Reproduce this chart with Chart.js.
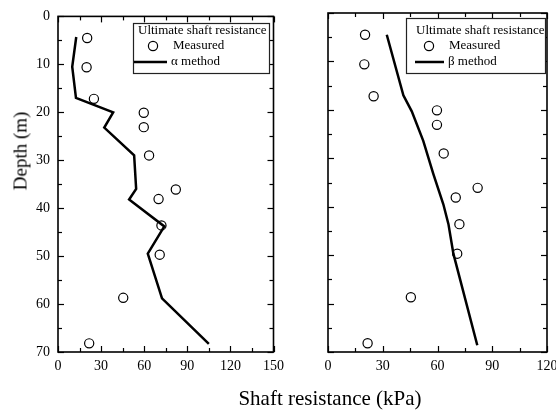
<!DOCTYPE html>
<html>
<head>
<meta charset="utf-8">
<script src="https://cdn.jsdelivr.net/npm/chart.js@4.4.1/dist/chart.umd.min.js"></script>
<style>
  body { margin: 0; background: #fff; overflow: hidden; }
  #wrap { position: relative; width: 556px; height: 410px; overflow: hidden; font-family: "Liberation Serif", serif; }
  .panel { position: absolute; top: 0; }
  #xTitle { position: absolute; left: 330px; top: 388px; transform: translateX(-50%); font-size: 21px; line-height: 21px; white-space: nowrap; color: #000; }
  #yTitle { position: absolute; left: 20px; top: 151px; transform: translate(-50%, -50%) rotate(-90deg); font-size: 19px; line-height: 19px; white-space: nowrap; color: #000; }
</style>
</head>
<body>
<div id="wrap">
  <div class="panel" style="left:0"><canvas id="alphaChart" width="290" height="410"></canvas></div>
  <div class="panel" style="left:290px"><canvas id="betaChart" width="276" height="410"></canvas></div>
  <div id="xTitle">Shaft resistance (kPa)</div>
  <div id="yTitle">Depth (m)</div>
</div>
<script>
// measured ultimate shaft resistance (same in both panels)
const measuredDepth = [4.5, 10.6, 17.2, 20.1, 23.1, 29.0, 36.1, 38.1, 43.6, 49.7, 58.7, 68.2];
const measuredQs    = [20.3, 19.9, 25.0, 59.7, 59.7, 63.4, 82.0, 70.0, 72.0, 70.8, 45.4, 21.7];

// alpha method profile
const alphaDepth = [4.3, 10.5, 17.0, 20.0, 23.2, 29.0, 36.0, 38.2, 43.8, 49.5, 58.8, 68.3];
const alphaQs    = [12.7, 9.9, 12.5, 38.4, 32.2, 53.0, 54.4, 49.5, 74.0, 62.5, 72.4, 105.0];

// beta method profile
const betaDepth = [4.5, 17.0, 20.3, 26.4, 33.2, 39.5, 43.6, 49.7, 68.6];
const betaQs    = [32.2, 41.3, 45.9, 52.2, 57.7, 63.2, 66.0, 68.7, 81.8];

const depthTicks = [0, 10, 20, 30, 40, 50, 60, 70];
const alphaXTicks = [0, 30, 60, 90, 120, 150];
const betaXTicks = [0, 30, 60, 90, 120];

const pts = (xs, ys) => xs.map((v, i) => ({ x: v, y: ys[i] }));
const serif = "'Liberation Serif', 'Times New Roman', serif";

// box around plot + inward ticks on all four sides
const frameTicks = {
  id: "frameTicks",
  afterDraw(chart) {
    const { ctx, chartArea: a, scales: { x, y } } = chart;
    ctx.save();
    ctx.strokeStyle = "#000";
    ctx.lineWidth = 1.2;
    const seg = (x1, y1, x2, y2) => { ctx.beginPath(); ctx.moveTo(x1, y1); ctx.lineTo(x2, y2); ctx.stroke(); };
    for (let v = x.min; v <= x.max; v += 15) {
      const px = Math.round(x.getPixelForValue(v)) + 0.5;
      const len = v % 30 === 0 ? 6 : 4;
      seg(px, a.bottom, px, a.bottom - len);
      seg(px, a.top, px, a.top + len);
    }
    for (let v = y.min; v <= y.max; v += 5) {
      const py = Math.round(y.getPixelForValue(v)) + 0.5;
      const len = v % 10 === 0 ? 6 : 4;
      seg(a.left, py, a.left + len, py);
      seg(a.right, py, a.right - len, py);
    }
    ctx.lineWidth = 1.6;
    ctx.strokeRect(a.left, a.top, a.right - a.left, a.bottom - a.top);
    ctx.restore();
  }
};

// legend box drawn inside the plot
const boxLegend = {
  id: "boxLegend",
  afterDraw(chart, args, o) {
    const ctx = chart.ctx;
    ctx.save();
    ctx.fillStyle = "#fff";
    ctx.fillRect(o.x, o.y, o.w, o.h);
    ctx.strokeStyle = "#222";
    ctx.lineWidth = 1.2;
    ctx.strokeRect(o.x + 0.5, o.y + 0.5, o.w, o.h);
    ctx.fillStyle = "#000";
    ctx.font = "13px " + serif;
    ctx.textBaseline = "middle";
    ctx.fillText("Ultimate shaft resistance", o.titleX, o.titleY);
    ctx.beginPath();
    ctx.arc(o.markX, o.markY, 4.6, 0, Math.PI * 2);
    ctx.lineWidth = 1.2;
    ctx.strokeStyle = "#000";
    ctx.stroke();
    ctx.fillText("Measured", o.textX1, o.markY);
    ctx.lineWidth = 2.5;
    ctx.beginPath();
    ctx.moveTo(o.lineX1, o.lineY);
    ctx.lineTo(o.lineX2, o.lineY);
    ctx.stroke();
    ctx.fillText(o.method, o.textX2, o.lineY);
    ctx.restore();
  }
};

function makePanel(id, lineDepth, lineQs, xTicks, xMax, yWidth, padRight, legend, showYLabels) {
  return new Chart(document.getElementById(id), {
    type: "scatter",
    data: {
      datasets: [
        {
          label: "Measured",
          data: pts(measuredQs, measuredDepth),
          pointStyle: "circle",
          pointRadius: 4.6,
          pointBorderWidth: 1.2,
          borderColor: "#000",
          backgroundColor: "rgba(255,255,255,0)",
          showLine: false
        },
        {
          label: legend.method,
          data: pts(lineQs, lineDepth),
          showLine: true,
          borderColor: "#000",
          borderWidth: 2.5,
          pointRadius: 0,
          fill: false,
          tension: 0
        }
      ]
    },
    options: {
      responsive: false,
      animation: false,
      layout: { padding: { top: 13, right: padRight, bottom: 28, left: 0 } },
      plugins: { legend: { display: false }, tooltip: { enabled: false }, boxLegend: legend },
      scales: {
        x: {
          type: "linear",
          min: 0, max: xMax,
          afterBuildTicks: s => { s.ticks = xTicks.map(v => ({ value: v })); },
          afterFit: s => { s.height = 30; },
          ticks: { color: "#000", font: { family: serif, size: 14 }, padding: 6, maxRotation: 0 },
          grid: { display: false, drawTicks: false },
          border: { display: false }
        },
        y: {
          type: "linear",
          reverse: true,
          min: 0, max: 70,
          afterBuildTicks: s => { s.ticks = depthTicks.map(v => ({ value: v })); },
          afterFit: s => { s.width = yWidth; },
          ticks: { display: showYLabels, color: "#000", font: { family: serif, size: 14 }, padding: 8 },
          grid: { display: false, drawTicks: false },
          border: { display: false }
        }
      }
    },
    plugins: [frameTicks, boxLegend]
  });
}

makePanel("alphaChart", alphaDepth, alphaQs, alphaXTicks, 150, 58, 16, {
  method: "\u03B1 method",
  x: 133, y: 23, w: 136, h: 50,
  titleX: 138, titleY: 31,
  markX: 153, markY: 46, textX1: 173,
  lineX1: 134, lineX2: 167, lineY: 62, textX2: 171
}, true);

makePanel("betaChart", betaDepth, betaQs, betaXTicks, 120, 38, 19, {
  method: "\u03B2 method",
  x: 116, y: 18, w: 139, h: 55,
  titleX: 126, titleY: 31,
  markX: 139, markY: 46, textX1: 159,
  lineX1: 125, lineX2: 154, lineY: 62, textX2: 158
}, false);
</script>
</body>
</html>
